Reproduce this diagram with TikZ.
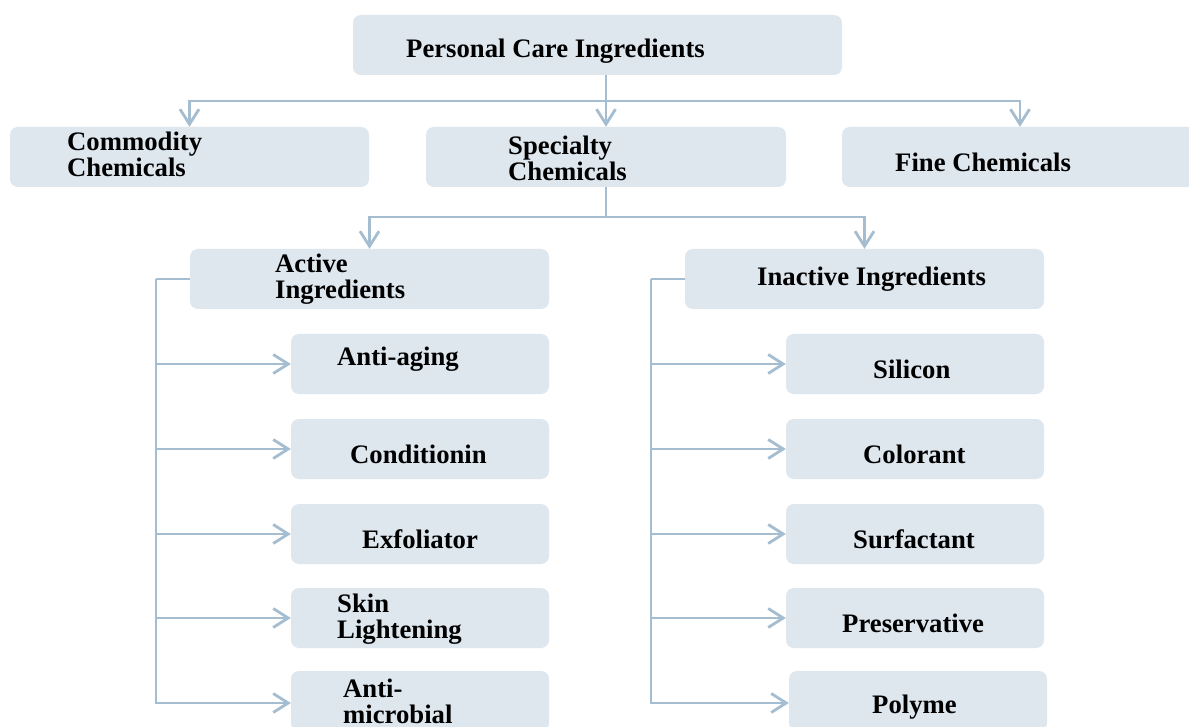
\documentclass[tikz,border=0pt]{standalone}
\usepackage{fontspec}
\setmainfont{Liberation Serif}
\usetikzlibrary{arrows.meta}
\definecolor{boxfill}{HTML}{DEE6EE}
\definecolor{linec}{HTML}{A5BDD0}
\tikzset{
  box/.style={fill=boxfill, draw=none, rounded corners=8pt, inner sep=0pt},
  lbl/.style={anchor=west, inner sep=0pt, align=left, yshift=-2pt, font=\fontsize{26.7}{26}\selectfont\bfseries},
  conn/.style={draw=linec, line width=2.8pt},
  arr/.style={conn, -{Straight Barb[length=15pt,width=19pt,line width=2.8pt]}},
}
\newcommand{\bx}[5]{\node[box, minimum width=#4-#2, minimum height=#5-#3] (#1) at ({(#2+#4)/2},{(#3+#5)/2}) {};}
\begin{document}
\begin{tikzpicture}[x=1pt,y=-1pt]
\useasboundingbox (0,0) rectangle (1189,727);
\clip (0,0) rectangle (1189,727);
\fill[white] (0,0) rectangle (1189,727);
% boxes
\bx{top}{353}{15}{842}{75}
\bx{comm}{10}{127}{369}{187}
\bx{spec}{426}{127}{786}{187}
\bx{fine}{842}{127}{1198}{187}
\bx{act}{190}{249}{549}{309}
\bx{inact}{685}{249}{1044}{309}
\bx{a1}{291}{334}{549}{394}
\bx{a2}{291}{419}{549}{479}
\bx{a3}{291}{504}{549}{564}
\bx{a4}{291}{588}{549}{648}
\bx{a5}{291}{671}{549}{731}
\bx{b1}{786}{334}{1044}{394}
\bx{b2}{786}{419}{1044}{479}
\bx{b3}{786}{504}{1044}{564}
\bx{b4}{786}{588}{1044}{648}
\bx{b5}{789}{671}{1047}{731}
% labels
\node[lbl] (topt) at (406,49) {Personal Care Ingredients};
\node[lbl] (commt) at (67,152) {Commodity\\Chemicals};
\node[lbl] (spect) at (508,156) {Specialty\\Chemicals};
\node[lbl] (finet) at (895,160) {Fine Chemicals};
\node[lbl] (actt) at (275,277) {Active\\Ingredients};
\node[lbl] (inactt) at (757,277) {Inactive Ingredients};
\node[lbl] (a1t) at (337,357) {Anti-aging};
\node[lbl] (a2t) at (350,452) {Conditionin};
\node[lbl] (a3t) at (362,537) {Exfoliator};
\node[lbl] (a4t) at (337,617) {Skin\\Lightening};
\node[lbl, yshift=2pt] (a5t) at (343,701) {Anti-\\microbial};
\node[lbl] (b1t) at (873,367) {Silicon};
\node[lbl] (b2t) at (863,452) {Colorant};
\node[lbl] (b3t) at (853,537) {Surfactant};
\node[lbl] (b4t) at (842,621) {Preservative};
\node[lbl] (b5t) at (872,705) {Polyme};
% connectors
\coordinate (hub1) at (606,101);
\coordinate (hub2) at (606,217);
\coordinate (la) at (156,279);
\coordinate (lb) at (651,279);
\draw[conn] (top.south -| hub1) -- (hub1);
\draw[arr] (hub1) -| (comm.north);
\draw[arr] (hub1) -| (fine.north);
\draw[arr] (hub1) -- (spec.north);
\draw[conn] (spec.south) -- (hub2);
\draw[arr] (hub2) -| (act.north);
\draw[arr] (hub2) -| (inact.north);
\draw[conn] (act.west) -- (la);
\draw[conn] (inact.west) -- (lb);
\foreach \c in {a1,a2,a3,a4} \draw[arr] (la) |- (\c.west);
\draw[arr] (la) |- ([yshift=-2pt]a5.west);
\foreach \c in {b1,b2,b3,b4} \draw[arr] (lb) |- (\c.west);
\draw[arr] (lb) |- ([yshift=-2pt]b5.west);
\end{tikzpicture}
\end{document}
